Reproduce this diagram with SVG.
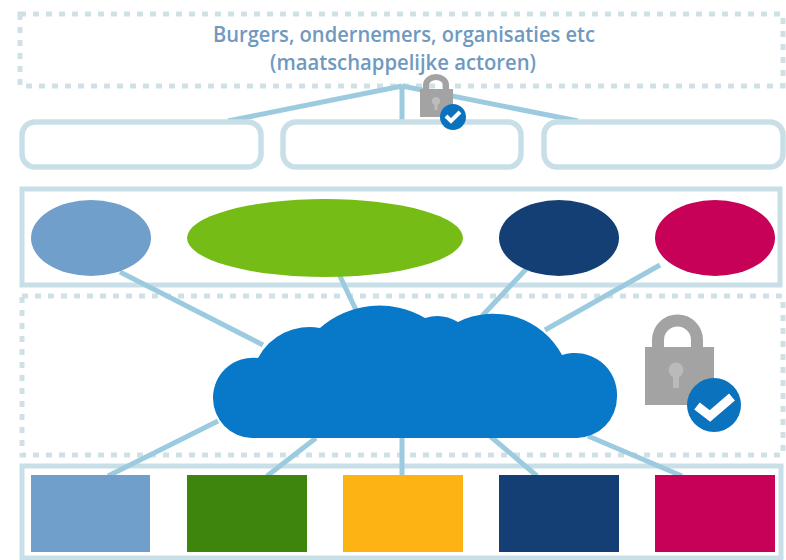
<svg xmlns="http://www.w3.org/2000/svg" width="786" height="560" viewBox="0 0 786 560">
<style>
.dash{fill:none;stroke:#d0e1e6;stroke-width:5;stroke-dasharray:6 7}
.frame{fill:none;stroke:#c9dfe7;stroke-width:5}
.box{fill:#fff;stroke:#c9dfe7;stroke-width:5.500}
.link{stroke:#9ccbdf;stroke-width:5;fill:none}
.lock{fill:#a3a3a3}
.shackle{fill:none;stroke:#a3a3a3}
.badge{fill:#0b72bd}
.check{fill:none;stroke:#fff;stroke-linecap:butt;stroke-linejoin:miter}
text{font-family:"Open Sans","Noto Sans",sans-serif;font-weight:600;fill:#7099bf;font-size:21.500px;text-anchor:middle}
</style>
<rect width="786" height="560" fill="#fff"/>
<g id="frames">
<rect class="dash" x="20" y="14" width="763" height="72"/>
<rect class="frame" x="22" y="189" width="758" height="96"/>
<rect class="dash" x="22" y="296" width="761" height="159"/>
<rect class="frame" x="22" y="466" width="759" height="92"/>
</g>
<g id="connectors">
<path class="link" stroke-width="5.500" d="M402 86L228 121M402 86V121M402 86L578 121"/>
<path class="link" d="M120 272L263 345M338 272L356 310M530 265L482 316M660 265L545 330"/>
<path class="link" d="M108 476L218 421M267 476L316 438M402 436V476M490 436L537 476M588 436L682 476"/>
</g>
<g id="actor-box-1"><rect class="box" x="22" y="122" width="239" height="45" rx="13"/></g>
<g id="actor-box-2"><rect class="box" x="283" y="122" width="238" height="45" rx="13"/></g>
<g id="actor-box-3"><rect class="box" x="544" y="122" width="239" height="45" rx="13"/></g>
<g id="label">
<text x="404" y="42" textLength="382" lengthAdjust="spacingAndGlyphs">Burgers, ondernemers, organisaties etc</text>
<text x="403" y="70" textLength="266" lengthAdjust="spacingAndGlyphs">(maatschappelijke actoren)</text>
</g>
<g id="ellipse-1"><ellipse cx="91" cy="238" rx="60" ry="38" fill="#6f9fca"/></g>
<g id="ellipse-2"><ellipse cx="325" cy="238" rx="138" ry="39" fill="#76bc17"/></g>
<g id="ellipse-3"><ellipse cx="559" cy="238" rx="60" ry="38" fill="#143f75"/></g>
<g id="ellipse-4"><ellipse cx="715" cy="238" rx="60" ry="38" fill="#c70058"/></g>
<g id="cloud"><path fill="#0878c8" d="M252 438A40 40 0 0 1 213 398A40 40 0 0 1 258 358A58 58 0 0 1 320 328A90 90 0 0 1 425 318A40 40 0 0 1 458 322A78 78 0 0 1 562 355A42 42 0 0 1 617 397A41 41 0 0 1 577 438Z"/></g>
<g id="rect-1"><rect x="31" y="475" width="119" height="77" fill="#6f9fca"/></g>
<g id="rect-2"><rect x="187" y="475" width="120" height="77" fill="#3d850d"/></g>
<g id="rect-3"><rect x="343" y="475" width="120" height="77" fill="#fdb313"/></g>
<g id="rect-4"><rect x="499" y="475" width="120" height="77" fill="#143f75"/></g>
<g id="rect-5"><rect x="655" y="475" width="120" height="77" fill="#c70058"/></g>
<g id="lock-small">
<path class="shackle" stroke-width="6" d="M426 90V85A10 8 0 0 1 446 85V90"/>
<rect class="lock" x="420" y="89" width="33" height="28"/>
<circle cx="436" cy="101" r="4" fill="#bdbdbd"/><rect x="434.500" y="102" width="3" height="8" fill="#bdbdbd"/>
<circle class="badge" cx="453" cy="117" r="13"/>
<path class="check" stroke-width="4" d="M446 116L451 121L460 112"/>
</g>
<g id="lock-large">
<path class="shackle" stroke-width="12" d="M658 350V340A19.500 19.500 0 0 1 697 340V350"/>
<rect class="lock" x="645" y="347" width="69" height="58"/>
<circle cx="676" cy="370" r="7.500" fill="#bababa"/><rect x="673" y="372" width="6" height="16" fill="#bababa"/>
<circle class="badge" cx="714" cy="405" r="27"/>
<path class="check" stroke-width="9" d="M697 406L710 416L732 397"/>
</g>
</svg>
